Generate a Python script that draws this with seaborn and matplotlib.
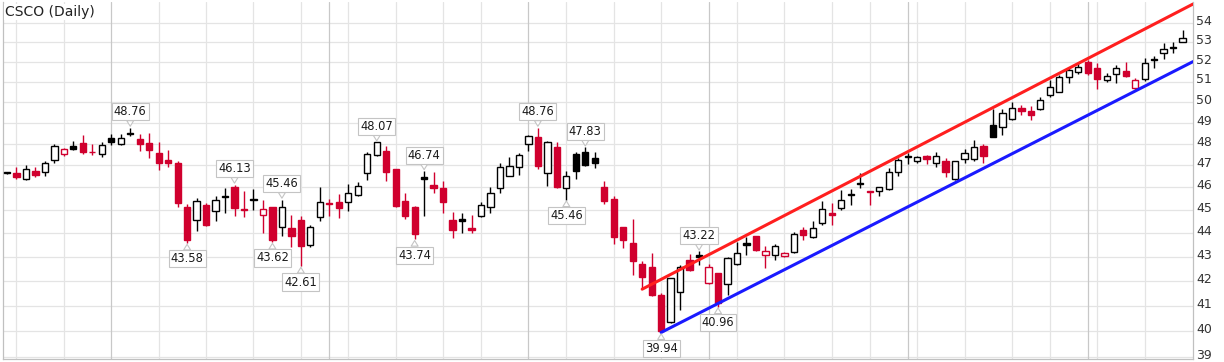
import numpy as np
import pandas as pd
import matplotlib
matplotlib.use("Agg")
import matplotlib.pyplot as plt
import seaborn as sns
from matplotlib.ticker import FixedLocator, NullLocator, NullFormatter
from matplotlib.transforms import ScaledTranslation

# ---------------- data ----------------
opens = [46.65, 46.64, 46.37, 46.76, 46.72, 47.26, 47.53, 47.88, 48.03, 47.64,
         47.53, 48.29, 47.97, 48.52, 48.24, 48.03, 47.56, 47.24, 47.12, 45.15,
         44.58, 45.21, 44.96, 45.63, 46.04, 45.06, 45.48, 44.80, 45.12, 44.26,
         44.21, 44.55, 43.50, 44.69, 45.33, 45.36, 45.36, 45.66, 46.65, 47.48,
         47.68, 46.82, 45.41, 45.12, 46.48, 46.12, 45.97, 44.58, 44.60, 44.20,
         44.74, 45.12, 45.97, 46.52, 46.92, 48.00, 48.34, 46.67, 47.84, 45.97,
         47.53, 47.60, 47.33, 46.04, 45.47, 44.25, 43.57, 42.70, 42.56, 41.42,
         40.35, 41.56, 42.87, 43.05, 41.90, 42.31, 41.87, 42.70, 43.56, 43.86,
         43.07, 43.07, 43.03, 43.20, 44.12, 43.84, 44.43, 44.87, 45.07, 45.72,
         46.22, 45.84, 45.82, 45.92, 46.72, 47.42, 47.20, 47.42, 47.10, 47.22,
         46.37, 47.28, 47.28, 47.90, 48.89, 48.80, 49.16, 49.70, 49.57, 49.63,
         50.34, 50.50, 51.21, 51.50, 52.00, 51.70, 51.08, 51.38, 51.55, 50.67,
         51.12, 52.13, 52.43, 52.75, 52.98]
highs = [46.72, 46.94, 47.04, 46.94, 47.20, 48.00, 47.78, 48.15, 48.40, 48.00,
         48.07, 48.45, 48.45, 48.76, 48.45, 48.50, 48.08, 47.69, 47.20, 45.25,
         45.55, 45.30, 45.63, 45.96, 46.13, 45.86, 45.92, 45.44, 45.15, 45.46,
         44.78, 44.72, 44.36, 46.00, 45.50, 45.70, 46.14, 46.26, 47.63, 48.07,
         47.90, 46.85, 45.73, 45.18, 46.74, 46.70, 46.27, 44.93, 44.86, 44.78,
         45.36, 46.00, 47.13, 47.40, 47.55, 48.42, 48.76, 48.15, 48.10, 46.75,
         47.60, 47.83, 47.63, 46.27, 45.63, 44.27, 44.62, 42.84, 43.14, 41.50,
         42.12, 42.66, 43.10, 43.22, 42.70, 42.33, 42.97, 43.62, 43.83, 43.88,
         43.45, 43.53, 43.20, 44.06, 44.27, 44.50, 45.38, 45.30, 45.90, 45.93,
         46.66, 45.86, 46.04, 46.87, 47.33, 47.55, 47.42, 47.48, 47.62, 47.33,
         47.20, 47.75, 48.18, 48.00, 49.66, 49.63, 49.97, 49.85, 49.80, 50.26,
         51.08, 51.33, 51.75, 52.00, 52.10, 51.92, 51.42, 51.83, 52.00, 51.16,
         52.17, 52.28, 52.94, 52.98, 53.65]
lows = [46.60, 46.40, 46.35, 46.45, 46.52, 47.12, 47.44, 47.70, 47.53, 47.50,
        47.38, 47.93, 47.93, 48.38, 47.66, 47.34, 46.78, 46.94, 45.15, 43.58,
        44.10, 44.30, 44.50, 44.87, 44.74, 44.70, 45.00, 44.02, 43.62, 43.88,
        43.42, 42.61, 43.42, 44.50, 44.73, 44.65, 44.97, 45.60, 46.35, 47.45,
        46.30, 45.15, 44.60, 43.74, 44.73, 45.74, 44.88, 43.80, 44.02, 44.00,
        44.70, 44.85, 45.77, 46.50, 46.55, 47.68, 46.82, 46.05, 45.98, 45.46,
        46.37, 46.97, 46.88, 45.26, 43.53, 43.35, 42.24, 41.70, 41.40, 39.94,
        40.30, 40.84, 42.42, 42.66, 41.87, 40.96, 41.43, 42.66, 43.07, 43.25,
        42.52, 42.86, 42.98, 43.14, 43.70, 43.77, 44.36, 44.36, 45.00, 45.22,
        45.97, 45.22, 45.62, 45.89, 46.50, 47.07, 47.10, 47.07, 46.92, 46.48,
        46.33, 47.10, 47.18, 47.10, 48.30, 48.42, 49.12, 49.37, 49.12, 49.60,
        50.26, 50.46, 50.92, 51.38, 51.33, 50.62, 51.00, 50.92, 51.21, 50.60,
        51.05, 51.66, 52.12, 52.45, 52.98]
closes = [46.68, 46.45, 46.82, 46.55, 47.09, 47.88, 47.74, 47.76, 47.63, 47.60,
          47.93, 48.10, 48.29, 48.47, 47.97, 47.70, 47.12, 47.10, 45.30, 43.72,
          45.40, 44.33, 45.45, 45.58, 45.07, 44.98, 45.42, 45.03, 43.72, 45.12,
          43.86, 43.46, 44.26, 45.36, 45.28, 45.07, 45.77, 46.07, 47.53, 48.07,
          46.72, 45.18, 44.74, 43.97, 46.40, 45.97, 45.36, 44.15, 44.54, 44.12,
          45.22, 45.77, 46.92, 46.98, 47.48, 48.37, 46.98, 48.06, 46.04, 46.52,
          46.74, 47.03, 47.12, 45.41, 43.85, 43.72, 42.80, 42.14, 41.43, 40.00,
          42.10, 42.59, 42.43, 43.00, 42.59, 41.10, 42.93, 43.17, 43.50, 43.28,
          43.25, 43.45, 43.17, 43.98, 43.92, 44.20, 45.03, 44.80, 45.45, 45.66,
          46.15, 45.78, 46.00, 46.72, 47.25, 47.38, 47.40, 47.30, 47.43, 46.72,
          47.18, 47.59, 47.87, 47.44, 48.34, 49.44, 49.69, 49.58, 49.37, 50.10,
          50.75, 51.21, 51.58, 51.75, 51.45, 51.12, 51.28, 51.67, 51.27, 51.08,
          51.92, 52.08, 52.63, 52.68, 53.20]

label_idx = [13, 19, 24, 28, 29, 31, 39, 43, 44, 56, 59, 61, 69, 73, 75]
label_side = ["high", "low", "high", "low", "high", "low", "high", "low",
              "high", "high", "low", "high", "low", "high", "low"]

upper_x = [67, 125.1]
upper_y = [41.66, 55.0]
lower_x = [69, 125.1]
lower_y = [39.94, 52.0]

y_ticks = list(range(39, 55))
title = "CSCO (Daily)"

# grid positions (layout)
week_lines = [1, 6, 16, 21, 26, 31, 36, 41, 46, 50, 59, 64, 69, 77, 82, 87,
              91, 96, 101, 106, 110, 115, 120]
month_lines = [11, 34, 55, 74, 95, 114]

# ---------------- style ----------------
sns.set_style("white")
plt.rcParams["font.family"] = ["DejaVu Sans"]

RED = "#d0002e"
BLACK = "#000000"

df = pd.DataFrame({"open": opens, "high": highs, "low": lows, "close": closes})
df["idx"] = np.arange(len(df))
prev = df["close"].shift(1).fillna(df["open"])
df["color"] = np.where(df["close"] < prev, RED, BLACK)
df["filled"] = df["close"] < df["open"]

fig = plt.figure(figsize=(12.24, 3.62), dpi=100)
ax = fig.add_axes([3 / 1224, 3 / 362, 1190 / 1224, 357 / 362])
ax.set_yscale("log")

# grid
for y in y_ticks:
    ax.axhline(y, color="#e4e4e4", lw=0.9, zorder=0)
for x in week_lines:
    ax.axvline(x, color="#e4e4e4", lw=0.9, zorder=0)
for x in month_lines:
    ax.axvline(x, color="#c8c8c8", lw=0.9, zorder=0)

# wicks
ax.vlines(df["idx"], df["low"], df["high"], colors=df["color"], lw=1.0, zorder=2)
# bodies
bottoms = np.minimum(df["open"], df["close"])
heights = np.maximum(np.abs(df["close"] - df["open"]), 0.005)
faces = [c if f else "white" for c, f in zip(df["color"], df["filled"])]
ax.bar(df["idx"], heights, bottom=bottoms, width=0.66, color=faces,
       edgecolor=df["color"], linewidth=1.0, zorder=3)

# channel lines
sns.lineplot(x=upper_x, y=upper_y, ax=ax, color="#ff1f1f", linewidth=2.2, zorder=4)
sns.lineplot(x=lower_x, y=lower_y, ax=ax, color="#1a1aff", linewidth=2.2, zorder=4)

# callout labels
for i, side in zip(label_idx, label_side):
    val = highs[i] if side == "high" else lows[i]
    dy = 11.5 if side == "high" else -11.5
    ax.annotate(f"{val:.2f}", xy=(i, val), xytext=(0, dy), textcoords="offset points",
                ha="center", va="center", fontsize=8.3, color="#1a1a1a",
                bbox=dict(boxstyle="square,pad=0.18", fc="white", ec="#c4c4c4", lw=0.8),
                arrowprops=dict(arrowstyle="wedge,tail_width=0.6", fc="white",
                                ec="#c4c4c4", lw=0.8, shrinkA=0, shrinkB=1),
                zorder=6)

# axes
ax.set_xlim(-0.42, 125.1)
ax.set_ylim(38.92, 55.11)
ax.yaxis.set_major_locator(FixedLocator(y_ticks))
ax.yaxis.set_minor_locator(NullLocator())
ax.yaxis.set_minor_formatter(NullFormatter())
ax.set_yticklabels([str(v) for v in y_ticks])
ax.yaxis.tick_right()
ax.tick_params(axis="y", which="major", length=0, pad=2.5, labelsize=9, labelcolor="#333333")
shift = ScaledTranslation(0, 2.2 / 72, fig.dpi_scale_trans)
for lab in ax.get_yticklabels():
    lab.set_transform(lab.get_transform() + shift)
ax.set_xticks([])
ax.set_xticks(np.arange(len(df)), minor=True)
ax.tick_params(axis="x", which="minor", length=2, width=0.8, color="#b0b0b0", direction="out")
for s in ["left", "right", "bottom"]:
    ax.spines[s].set_color("#c0c0c0")
    ax.spines[s].set_linewidth(0.9)
ax.spines["top"].set_visible(False)
ax.set_xlabel("")
ax.set_ylabel("")

fig.text(5 / 1224, 1 - 12 / 362, title, fontsize=10, color="#222222", ha="left", va="center",
         bbox=dict(boxstyle="square,pad=0.1", fc="white", ec="none"))

fig.savefig("out.png", dpi=100)
